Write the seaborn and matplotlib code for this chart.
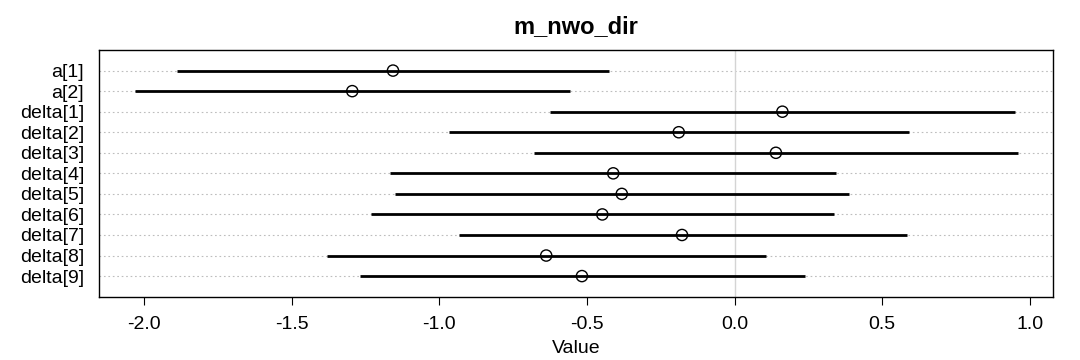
import matplotlib
matplotlib.use("Agg")
import matplotlib.pyplot as plt
import numpy as np
import pandas as pd
import seaborn as sns

# posterior summaries
params = ["a[1]", "a[2]", "delta[1]", "delta[2]", "delta[3]", "delta[4]",
          "delta[5]", "delta[6]", "delta[7]", "delta[8]", "delta[9]"]
means = [-1.157, -1.295, 0.162, -0.189, 0.140, -0.411, -0.382, -0.448, -0.178, -0.638, -0.517]
lower = [-1.888, -2.032, -0.624, -0.968, -0.681, -1.166, -1.150, -1.232, -0.935, -1.381, -1.269]
upper = [-0.424, -0.556, 0.949, 0.590, 0.959, 0.345, 0.388, 0.338, 0.585, 0.106, 0.237]

df = pd.DataFrame({"param": params, "mean": means, "low": lower, "high": upper})
df["pos"] = np.arange(len(df))

sns.set_style("white")
plt.rcParams["font.family"] = ["Liberation Sans", "DejaVu Sans"]
plt.rcParams["text.color"] = "black"
plt.rcParams["axes.labelcolor"] = "black"
plt.rcParams["xtick.color"] = "black"
plt.rcParams["ytick.color"] = "black"

fig = plt.figure(figsize=(10.8, 3.6), dpi=100)
ax = fig.add_axes([0.092, 0.176, 0.883, 0.685])

# dotchart-style guide lines + zero reference
for p in df["pos"]:
    ax.axhline(p, color="#bdbdbd", lw=0.8, ls=(0, (1.5, 2.5)), zorder=0)
ax.axvline(0, color="#d4d4d4", lw=1.0, zorder=0)

ax.hlines(df["pos"], df["low"], df["high"], color="black", lw=2.0, zorder=2)
sns.scatterplot(data=df, x="mean", y="pos", ax=ax, s=65, marker="o",
                facecolor="none", edgecolor="black", linewidth=1.0, zorder=3)

span = df["high"].max() - df["low"].min()
ax.set_xlim(df["low"].min() - 0.04 * span, df["high"].max() + 0.04 * span)
ax.set_ylim(len(df), -1)
ax.set_yticks(df["pos"])
ax.set_yticklabels(df["param"], fontsize=14)
ax.tick_params(axis="y", length=0, pad=11)
ax.set_xticks([-2.0, -1.5, -1.0, -0.5, 0.0, 0.5, 1.0])
ax.set_xticklabels(["-2.0", "-1.5", "-1.0", "-0.5", "0.0", "0.5", "1.0"], fontsize=14)
ax.tick_params(axis="x", length=6, width=0.8, direction="out", pad=8, bottom=True)

for s in ax.spines.values():
    s.set_color("black")
    s.set_linewidth(1.0)

ax.set_xlabel("Value", fontsize=14, labelpad=5)
ax.set_ylabel("")
ax.set_title("m_nwo_dir", fontsize=17, fontweight="bold", pad=12)

fig.savefig("out.png", dpi=100)
